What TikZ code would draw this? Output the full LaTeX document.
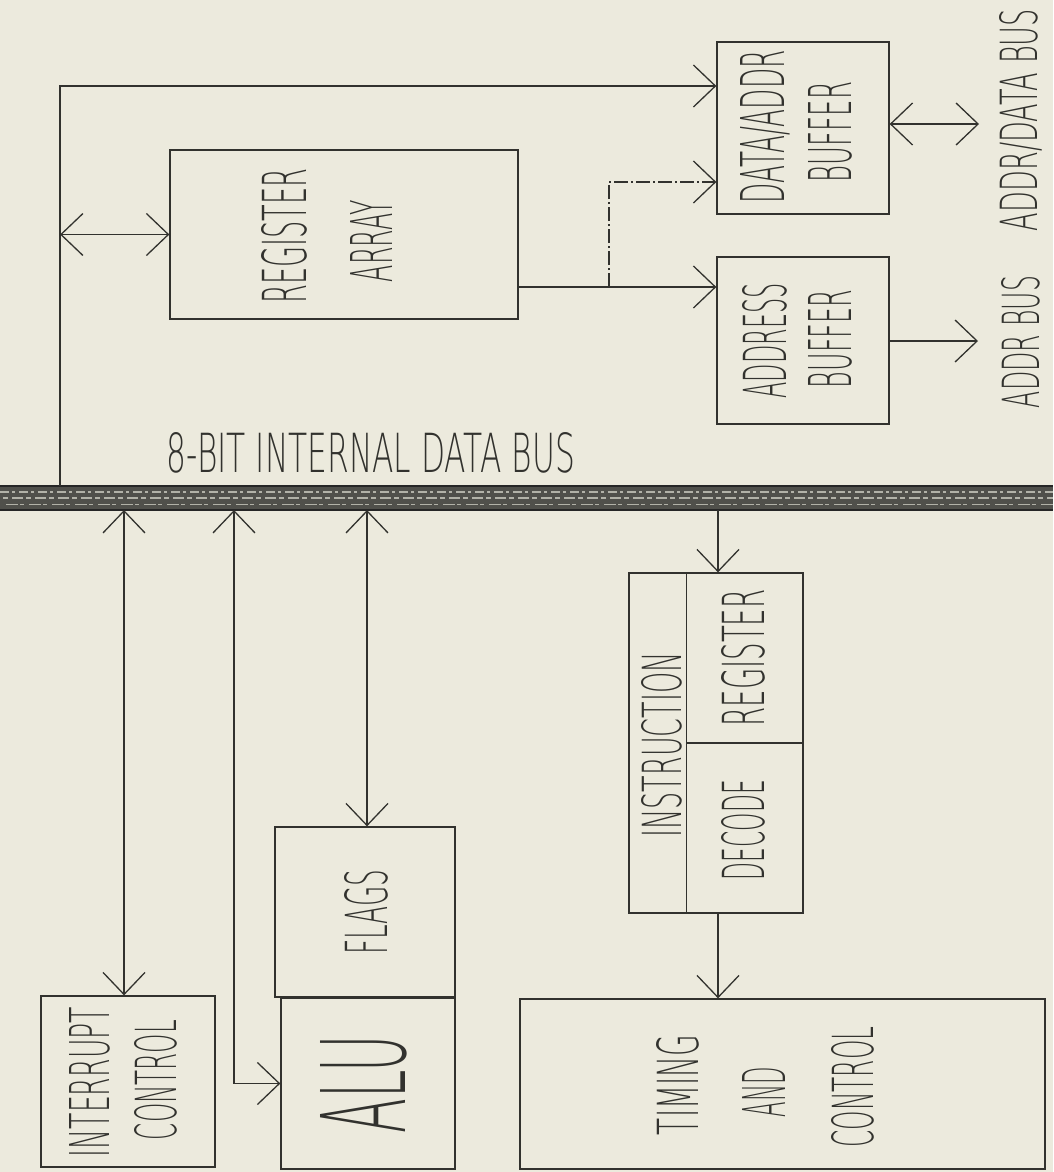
\documentclass[tikz,border=0pt]{standalone}
\usepackage{fontspec}
\setmainfont{DejaVuSans-ExtraLight.ttf}
\usepackage{graphicx}
\usetikzlibrary{arrows.meta}
\definecolor{bg}{RGB}{236,234,221}
\definecolor{ink}{RGB}{50,50,46}
\definecolor{busc}{RGB}{80,80,75}
\definecolor{busl}{RGB}{178,178,168}
\newcommand{\rb}[3]{\resizebox{#1pt}{#2pt}{#3}}
\begin{document}
\begin{tikzpicture}[x=1pt,y=-1pt,
  >={Straight Barb[length=22pt,width=42pt]},
  line/.style={draw=ink,line width=1.3pt},
  box/.style={draw=ink,line width=1.3pt,inner sep=0pt},
  lbl/.style={text=ink,inner sep=0pt,rotate=90},
  hlbl/.style={text=ink,inner sep=0pt},
  ddline/.style={dash pattern=on 14pt off 3pt on 2pt off 3pt}]
\fill[bg] (0,0) rectangle (1053,1172);
\useasboundingbox (0,0) rectangle (1053,1172);

% internal bus
\node[fill=busc,inner sep=0pt,minimum width=1053pt,minimum height=24pt] (bus) at (526.5,498) {};
\draw[busl,line width=1.2pt,dash pattern=on 9pt off 3pt on 3pt off 4pt] (0,492) -- (1053,492);
\draw[busl,line width=1.2pt,dash pattern=on 5pt off 4pt on 11pt off 3pt] (3,498) -- (1053,498);
\draw[busl,line width=1pt,dash pattern=on 12pt off 2pt on 4pt off 5pt] (6,504) -- (1053,504);
\draw[black!85,line width=1.6pt] (bus.north west) -- (bus.north east);
\draw[black!85,line width=1.6pt] (bus.south west) -- (bus.south east);

% boxes
\node[box,minimum width=348pt,minimum height=169pt] (regarr) at (344,234.5) {};
\node[box,minimum width=172pt,minimum height=172pt] (dab) at (803,128) {};
\node[box,minimum width=172pt,minimum height=167pt] (ab) at (803,340.5) {};
\node[box,minimum width=174pt,minimum height=171pt] (intc) at (128,1081.5) {};
\node[box,minimum width=180pt,minimum height=170pt] (flags) at (365,912) {};
\node[box,minimum width=174pt,minimum height=171pt] (alu) at (368,1083.5) {};
\node[box,minimum width=174pt,minimum height=340pt] (instr) at (716,743) {};
\node[box,minimum width=525pt,minimum height=170pt] (timing) at (782.5,1084) {};
\draw[line] ([xshift=58pt]instr.north west) -- ([xshift=58pt]instr.south west);
\draw[line] ([xshift=58pt]instr.west) -- (instr.east);

% coordinates
\coordinate (tapO) at (60,486);
\coordinate (cornO) at (60,86);
\coordinate (rout) at (518,287);
\coordinate (jn) at (609,287);
\coordinate (jn2) at (609,182);
\coordinate (adbus) at (979,124);
\coordinate (abus) at (978,341);
\coordinate (tapI) at (124,510);
\coordinate (tapA) at (234,510);
\coordinate (tapF) at (367,510);
\coordinate (tapR) at (718,510);

% connectors
\draw[line,->] (tapO) -- (cornO) -- (cornO -| dab.west);
\draw[line,<->] (regarr.west -| cornO) -- (regarr.west);
\draw[line,->] (rout) -- (rout -| ab.west);
\draw[line,ddline,->] (jn) -- (jn2) -- (jn2 -| dab.west);
\draw[line,<->] (adbus -| dab.east) -- (adbus);
\draw[line,->] (abus -| ab.east) -- (abus);
\draw[line,<->] (tapI) -- (tapI |- intc.north);
\draw[line,<->] (tapA) |- (alu.west);
\draw[line,<->] (tapF) -- (tapF |- flags.north);
\draw[line,->] (tapR) -- (tapR |- instr.north);
\draw[line,->] (tapR |- instr.south) -- (tapR |- timing.north);

% labels
\node[lbl] (tRA1) at (284,236) {\rb{135}{45}{REGISTER}};
\node[lbl] (tRA2) at (371,241) {\rb{82}{42}{ARRAY}};
\node[lbl] (tDA1) at (765,127) {\rb{153}{44}{DATA/ADDR}};
\node[lbl] (tDA2) at (830,132) {\rb{100}{43}{BUFFER}};
\node[lbl] (tAB1) at (765,341) {\rb{115}{44}{ADDRESS}};
\node[lbl] (tAB2) at (830,339) {\rb{98}{43}{BUFFER}};
\node[lbl] (tADB) at (1021,120) {\rb{222}{38}{ADDR/DATA BUS}};
\node[lbl] (tAD) at (1021,342) {\rb{132}{38}{ADDR BUS}};
\node[hlbl] (tBus) at (371,453) {\rb{408}{40}{8-BIT INTERNAL DATA BUS}};
\node[lbl] (tIC1) at (90,1082) {\rb{150}{40}{INTERRUPT}};
\node[lbl] (tIC2) at (156,1080) {\rb{120}{42}{CONTROL}};
\node[lbl] (tFl) at (366,912) {\rb{85}{43}{FLAGS}};
\node[lbl] (tAlu) at (364,1084) {\rb{98}{85}{ALU}};
\node[lbl] (tIn) at (662,745) {\rb{185}{40}{INSTRUCTION}};
\node[lbl] (tIR) at (743,658) {\rb{137}{43}{REGISTER}};
\node[lbl] (tDe) at (743,830) {\rb{100}{43}{DECODE}};
\node[lbl] (tT1) at (678,1085) {\rb{100}{42}{TIMING}};
\node[lbl] (tT2) at (764,1092) {\rb{50}{43}{AND}};
\node[lbl] (tT3) at (853,1087) {\rb{121}{42}{CONTROL}};
\end{tikzpicture}
\end{document}
